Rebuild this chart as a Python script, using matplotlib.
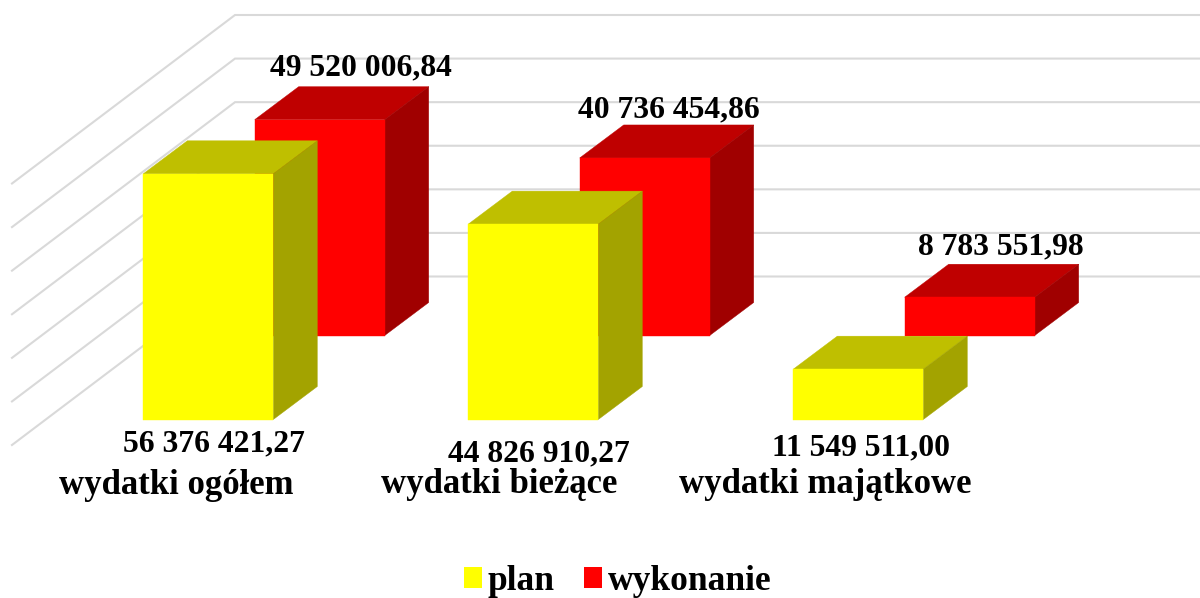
import matplotlib
matplotlib.use("Agg")
import matplotlib.pyplot as plt
from matplotlib.patches import Polygon, Patch

categories = ["wydatki ogółem", "wydatki bieżące", "wydatki majątkowe"]
plan = [56376421.27, 44826910.27, 11549511.00]
wykonanie = [49520006.84, 40736454.86, 8783551.98]
plan_labels = ["56 376 421,27", "44 826 910,27", "11 549 511,00"]
wyk_labels = ["49 520 006,84", "40 736 454,86", "8 783 551,98"]
grid_values = [0, 10e6, 20e6, 30e6, 40e6, 50e6, 60e6]

plt.rcParams['font.family'] = ['Liberation Serif', 'DejaVu Serif']
W, H = 1200, 598
fig = plt.figure(figsize=(W/100, H/100), dpi=100)
ax = fig.add_axes([0, 0, 1, 1])

# value axis: pixel position of value 0 on the back wall and pixels per unit
P0 = 276.5
SCALE = (276.5 - 15.0) / 60e6
def v_of_px(p):
    return (P0 - p) / SCALE
ax.set_xlim(0, W)
ax.set_ylim(v_of_px(H), v_of_px(0))
ax.axis('off')

# oblique gridlines
GRID = '#d9d9d9'
wall_x, left_x = 235, 12
left_dy = 168.5 / SCALE
for v in grid_values:
    ax.plot([left_x, wall_x, W + 5], [v - left_dy, v, v], color=GRID, lw=1.5,
            solid_joinstyle='miter', zorder=1, clip_on=True)

DX, DY = 44, 33 / SCALE
BW = 130

def box(x, val, base, front, top, side, z):
    b = v_of_px(base)
    ax.bar([x], [val], BW, bottom=b, align='edge', color=front, edgecolor=front, lw=0.3, zorder=z + 0.2)
    t = b + val
    ax.add_patch(Polygon([(x, t), (x + DX, t + DY), (x + BW + DX, t + DY), (x + BW, t)],
                         closed=True, fc=top, ec=top, lw=0.3, zorder=z + 0.1))
    ax.add_patch(Polygon([(x + BW, b), (x + BW + DX, b + DY), (x + BW + DX, t + DY), (x + BW, t)],
                         closed=True, fc=side, ec=side, lw=0.3, zorder=z + 0.1))

for i in range(3):
    box(254.7 + 325 * i, wykonanie[i], 335.5, '#ff0000', '#bf0000', '#a00000', 2)
for i in range(3):
    box(143.3 + 325 * i, plan[i], 419.5, '#ffff00', '#bfbf00', '#a3a300', 3)

FS = 22.8
def label(cx, base_px, s, size=FS):
    ax.text(cx, v_of_px(base_px), s, ha='center', va='baseline', fontsize=size,
            fontweight='bold', color='black', zorder=6)

for cx, by, s in zip([361, 669, 1001], [75, 117, 254], wyk_labels):
    label(cx, by, s)
for cx, by, s in zip([214, 539, 861], [451, 461, 455], plan_labels):
    label(cx, by, s)
for cx, by, s in zip([176, 499.5, 825], [494, 493, 493], categories):
    label(cx, by, s, 25)

handles = [Patch(fc='#ffff00', ec='none', label='plan'), Patch(fc='#ff0000', ec='none', label='wykonanie')]
leg = fig.legend(handles=handles, loc='lower left', bbox_to_anchor=(464 / W, 0 / H), ncols=2, frameon=False,
                 prop={'size': 25.5, 'weight': 'bold'}, handlelength=0.51, handleheight=0.51,
                 handletextpad=0.16, columnspacing=0.82, borderpad=0, borderaxespad=0)

fig.savefig('out.png', dpi=100)
